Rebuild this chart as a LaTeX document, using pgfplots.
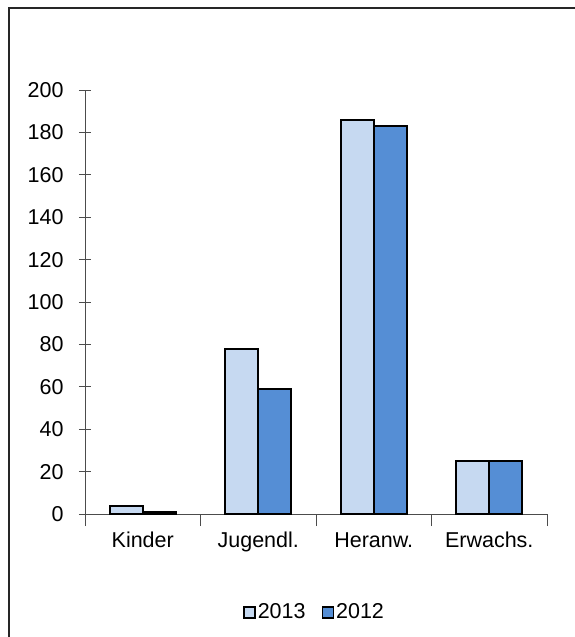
\documentclass[border=0pt]{standalone}
\usepackage{pgfplots}
\pgfplotsset{compat=1.18}
\usepackage{fontspec}
\setmainfont{Liberation Sans}
\definecolor{light}{HTML}{C6D9F1}
\definecolor{dark}{HTML}{558ED5}
\begin{document}
\begin{tikzpicture}
\path[use as bounding box] (0pt,0pt) rectangle (574pt,-637pt);
\draw[line width=2pt,black!85] (9pt,-640pt) -- (9pt,-8pt) -- (580pt,-8pt);
\begin{axis}[
  at={(85pt,-514pt)}, anchor=south west,
  scale only axis,
  width=462pt, height=424pt,
  xmin=-0.5, xmax=3.5, ymin=0, ymax=200,
  axis x line=bottom, axis y line=left,
  axis line style={-, black!70, line width=0.8pt},
  tick style={black!70, line width=0.8pt},
  tick align=center,
  major tick length=12pt, minor tick length=12pt,
  xtick={0,1,2,3},
  xticklabels={Kinder,Jugendl.,Heranw.,Erwachs.},
  x tick style={draw=none},
  minor xtick={-0.5,0.5,1.5,2.5,3.5},
  minor x tick style={draw=black!70},
  ytick={0,20,...,200},
  /pgf/number format/assume math mode=true,
  tick label style={font=\fontsize{21.5}{25}\selectfont},
  yticklabel style={xshift=-12pt},
  xticklabel style={yshift=-3pt, text height=15pt, text depth=5pt},
  ybar=0pt, bar width=33pt,
  legend columns=2,
  legend style={draw=none, fill=none, font=\fontsize{21.5}{25}\selectfont,
    at={(0.497,-0.231)}, anchor=center,
    /tikz/every even column/.append style={column sep=14pt}},
  legend image code/.code={\draw[#1,line width=1.5pt] (0pt,-6pt) rectangle (11pt,5pt);},
]
\addplot[fill=light, draw=black, line width=2pt] coordinates {(0,4) (1,78) (2,186) (3,25)};
\addplot[fill=dark, draw=black, line width=2pt] coordinates {(0,1) (1,59) (2,183) (3,25)};
\legend{2013,2012}
\end{axis}
\end{tikzpicture}
\end{document}
